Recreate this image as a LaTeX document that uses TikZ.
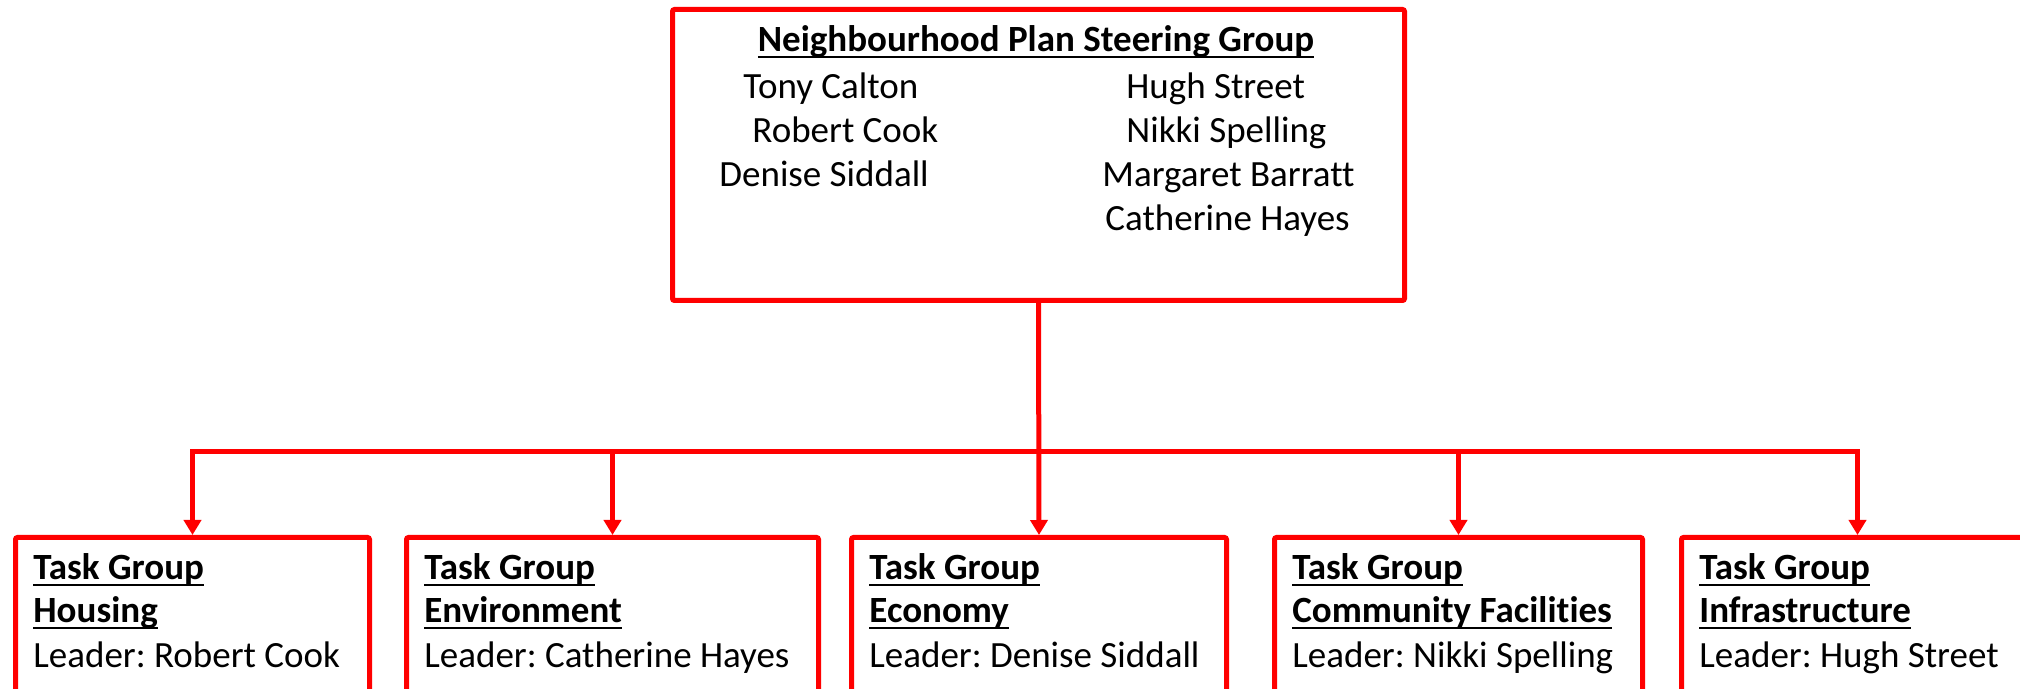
\documentclass[tikz,border=0pt]{standalone}
\usepackage{fontspec}
\setmainfont[Ligatures={NoCommon}]{Carlito}
\usetikzlibrary{arrows.meta}
\definecolor{boxred}{RGB}{255,0,0}
\frenchspacing
\newcommand\ulbf[1]{\sbox0{\bfseries #1}\rlap{\rule[-3pt]{\wd0}{1.1pt}}\usebox0}
\begin{document}
\begin{tikzpicture}[x=0.5pt,y=-0.5pt,
  box/.style={draw=boxred,line width=2.5pt,rectangle,rounded corners=1pt,anchor=north west,inner sep=0},
  conn/.style={draw=boxred,line width=2.5pt},
  arr/.style={conn,-{Triangle[width=8.5pt,length=7.5pt]}},
  txt/.style={anchor=base west,inner sep=0,font=\fontsize{18.5pt}{22pt}\selectfont\frenchspacing},
  ctxt/.style={anchor=base,inner sep=0,font=\fontsize{18.5pt}{22pt}\selectfont\frenchspacing}]
\useasboundingbox (0,0) rectangle (2020,689);
\clip (0,0) rectangle (2020,689);
% boxes
\node[box,minimum width=366pt,minimum height=145.5pt] (top) at (670,7) {};
\node[box,minimum width=177pt,minimum height=100pt] (b1) at (13,535) {};
\node[box,minimum width=206pt,minimum height=100pt] (b2) at (404,535) {};
\node[box,minimum width=187.5pt,minimum height=100pt] (b3) at (849,535) {};
\node[box,minimum width=184pt,minimum height=100pt] (b4) at (1272,535) {};
\node[box,minimum width=176pt,minimum height=100pt] (b5) at (1679,535) {};
% top box text
\node[ctxt] (title) at (1036,52) {\ulbf{Neighbourhood Plan Steering Group}};
\node[txt] (n1) at (743,99) {Tony Calton};
\node[txt] (n2) at (752,143) {Robert Cook};
\node[txt] (n3) at (719,187) {Denise Siddall};
\node[txt] (n4) at (1126,99) {Hugh Street};
\node[txt] (n5) at (1126,143) {Nikki Spelling};
\node[txt] (n6) at (1102,187) {Margaret Barratt};
\node[txt] (n7) at (1105,231) {Catherine Hayes};
% task group texts
\node[txt] (t1a) at (33,580) {\ulbf{Task Group}};
\node[txt] (t1b) at (33,623) {\ulbf{Housing}};
\node[txt] (t1c) at (33,668) {Leader: Robert Cook};
\node[txt] (t2a) at (424,580) {\ulbf{Task Group}};
\node[txt] (t2b) at (424,623) {\ulbf{Environment}};
\node[txt] (t2c) at (424,668) {Leader: Catherine Hayes};
\node[txt] (t3a) at (869,580) {\ulbf{Task Group}};
\node[txt] (t3b) at (869,623) {\ulbf{Economy}};
\node[txt] (t3c) at (869,668) {Leader: Denise Siddall};
\node[txt] (t4a) at (1292,580) {\ulbf{Task Group}};
\node[txt] (t4b) at (1292,623) {\ulbf{Community Facilities}};
\node[txt] (t4c) at (1292,668) {Leader: Nikki Spelling};
\node[txt] (t5a) at (1699,580) {\ulbf{Task Group}};
\node[txt] (t5b) at (1699,623) {\ulbf{Infrastructure}};
\node[txt] (t5c) at (1699,668) {Leader: Hugh Street};
% connectors
\coordinate (hub) at (1036,452);
\draw[conn,{Triangle[width=8.5pt,length=7.5pt]}-{Triangle[width=8.5pt,length=7.5pt]}]
  (b1.north) -- (b1.north |- hub) -- (b5.north |- hub) -- (b5.north);
\draw[arr] (top.south) -- (b3.north);
\draw[arr] (b2.north |- hub) -- (b2.north);
\draw[arr] (b4.north |- hub) -- (b4.north);
\end{tikzpicture}
\end{document}
